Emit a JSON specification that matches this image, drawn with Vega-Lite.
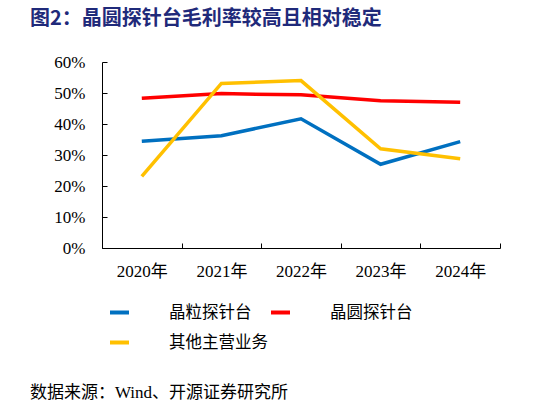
{
  "$schema": "https://vega.github.io/schema/vega-lite/v6.json",
  "padding": {"left": 30, "top": 9, "right": 28, "bottom": 8},
  "background": "white",
  "config": {
    "font": "Times New Roman, Liberation Serif, Noto Sans CJK SC, serif",
    "view": {"stroke": null}
  },
  "title": {
    "text": "图2：晶圆探针台毛利率较高且相对稳定",
    "anchor": "start",
    "font": "Noto Sans CJK SC",
    "fontSize": 20,
    "fontWeight": "bold",
    "color": "#1F2A7A",
    "offset": 24
  },
  "vconcat": [
    {
      "width": 398,
      "height": 186,
      "title": {
        "text": "数据来源：Wind、开源证券研究所",
        "orient": "bottom",
        "anchor": "start",
        "frame": "group",
        "dx": -72,
        "offset": 106,
        "font": "Times New Roman, Liberation Serif, Noto Sans CJK SC, serif",
        "fontSize": 17,
        "fontWeight": "normal",
        "color": "#000000"
      },
      "data": {
        "values": [
          {"year": "2020年", "series": "晶粒探针台", "value": 0.344},
          {"year": "2021年", "series": "晶粒探针台", "value": 0.362},
          {"year": "2022年", "series": "晶粒探针台", "value": 0.417},
          {"year": "2023年", "series": "晶粒探针台", "value": 0.270},
          {"year": "2024年", "series": "晶粒探针台", "value": 0.343},
          {"year": "2020年", "series": "晶圆探针台", "value": 0.483},
          {"year": "2021年", "series": "晶圆探针台", "value": 0.498},
          {"year": "2022年", "series": "晶圆探针台", "value": 0.494},
          {"year": "2023年", "series": "晶圆探针台", "value": 0.475},
          {"year": "2024年", "series": "晶圆探针台", "value": 0.470},
          {"year": "2020年", "series": "其他主营业务", "value": 0.231},
          {"year": "2021年", "series": "其他主营业务", "value": 0.531},
          {"year": "2022年", "series": "其他主营业务", "value": 0.540},
          {"year": "2023年", "series": "其他主营业务", "value": 0.320},
          {"year": "2024年", "series": "其他主营业务", "value": 0.288}
        ]
      },
      "mark": {"type": "line", "strokeWidth": 3.5},
      "encoding": {
        "x": {
          "field": "year",
          "type": "ordinal",
          "scale": {"type": "band", "paddingInner": 0, "paddingOuter": 0},
          "axis": {
            "title": null,
            "labelAngle": 0,
            "labelFont": "Times New Roman, Liberation Serif, Noto Sans CJK SC, serif",
            "labelFontSize": 17,
            "labelColor": "#000000",
            "labelPadding": 20,
            "domainColor": "#000000",
            "tickColor": "#000000",
            "tickSize": -5,
            "tickBand": "extent",
            "grid": false
          }
        },
        "y": {
          "field": "value",
          "type": "quantitative",
          "scale": {"domain": [0, 0.6], "nice": false},
          "axis": {
            "title": null,
            "format": ".0%",
            "values": [0, 0.1, 0.2, 0.3, 0.4, 0.5, 0.6],
            "labelFont": "Times New Roman, Liberation Serif, serif",
            "labelFontSize": 17,
            "labelColor": "#000000",
            "labelPadding": 22,
            "domainColor": "#000000",
            "tickColor": "#000000",
            "tickSize": -5,
            "grid": false
          }
        },
        "color": {
          "field": "series",
          "type": "nominal",
          "sort": ["晶粒探针台", "晶圆探针台", "其他主营业务"],
          "scale": {
            "domain": ["晶粒探针台", "晶圆探针台", "其他主营业务"],
            "range": ["#0070C0", "#FF0000", "#FFC000"]
          },
          "legend": {
            "title": null,
            "orient": "none",
            "legendX": 6,
            "legendY": 239,
            "direction": "horizontal",
            "columns": 2,
            "symbolType": "stroke",
            "symbolSize": 361,
            "symbolStrokeWidth": 4,
            "labelFont": "Noto Sans CJK SC",
            "labelFontSize": 16.5,
            "labelColor": "#000000",
            "labelOffset": 38,
            "columnPadding": -5,
            "rowPadding": 10
          }
        }
      }
    }
  ]
}
